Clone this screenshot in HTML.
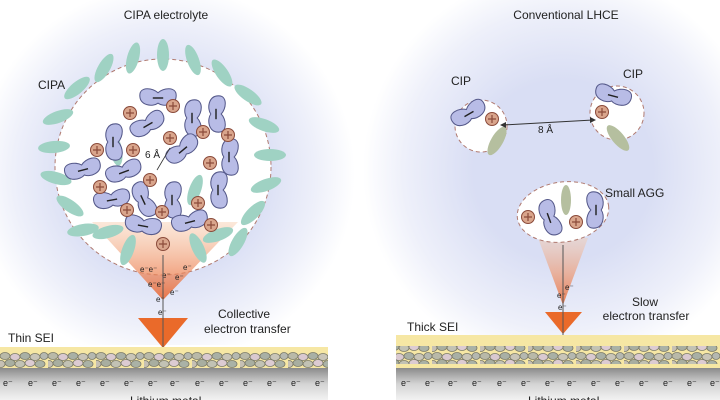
<!DOCTYPE html>
<html><head><meta charset="utf-8"><style>
html,body{margin:0;padding:0;background:#fff}
svg{display:block}
text{font-family:"Liberation Sans",sans-serif;fill:#222}
</style></head><body>
<svg width="720" height="400" viewBox="0 0 720 400" xmlns="http://www.w3.org/2000/svg">
<defs>
<radialGradient id="glowL" cx="165" cy="175" r="190" gradientUnits="userSpaceOnUse">
<stop offset="0.5" stop-color="#d9def4"/><stop offset="0.8" stop-color="#eef0fa"/><stop offset="1" stop-color="#ffffff"/></radialGradient>
<radialGradient id="glowR" cx="563" cy="170" r="200" gradientUnits="userSpaceOnUse">
<stop offset="0.45" stop-color="#d9def4"/><stop offset="0.8" stop-color="#eef0fa"/><stop offset="1" stop-color="#ffffff"/></radialGradient>
<linearGradient id="fun" x1="0" y1="0" x2="0" y2="1">
<stop offset="0" stop-color="#f6c9a8" stop-opacity="0.5"/><stop offset="1" stop-color="#e8602a"/></linearGradient>
<linearGradient id="metal" x1="0" y1="0" x2="0" y2="1">
<stop offset="0" stop-color="#8a8a8a"/><stop offset="0.5" stop-color="#d4d4d4"/><stop offset="1" stop-color="#f2f2f2"/></linearGradient>
<pattern id="peb" width="48" height="16" patternUnits="userSpaceOnUse">
<g stroke="#7a7a6a" stroke-width="0.8">
<ellipse cx="5" cy="4" rx="5" ry="3.5" fill="#b9b9a8"/>
<ellipse cx="15" cy="5" rx="5" ry="3.5" fill="#d9c9d0"/>
<ellipse cx="25" cy="4" rx="5" ry="3.5" fill="#a9b0a5"/>
<ellipse cx="35" cy="5" rx="5" ry="3.5" fill="#c9c5b8"/>
<ellipse cx="44" cy="4" rx="4" ry="3.5" fill="#b5b8b0"/>
<ellipse cx="10" cy="11" rx="5" ry="3.5" fill="#a8aea0"/>
<ellipse cx="20" cy="12" rx="5" ry="3.5" fill="#c2c2b4"/>
<ellipse cx="30" cy="11" rx="5" ry="3.5" fill="#dccbd2"/>
<ellipse cx="40" cy="12" rx="5" ry="3.5" fill="#aab2a6"/>
<ellipse cx="1" cy="12" rx="4" ry="3.5" fill="#c6c0b4"/>
</g></pattern>
<g id="an"><g transform="scale(1.3)"><path d="M-14,-2 C-14,-9 -4,-8 0,-4 C4,-8 14,-9 14,-2 C14,6 4,7 0,4 C-4,7 -14,6 -14,-2Z" fill="#b8bce6" stroke="#55598a" stroke-width="0.8"/><line x1="-4" y1="0" x2="4" y2="0" stroke="#222" stroke-width="1.1"/></g></g>
<g id="cat"><circle r="6.5" fill="#d9a58c" stroke="#8a4a3a" stroke-width="1"/><path d="M-4,0H4M0,-4V4" stroke="#8a4a3a" stroke-width="1.2"/></g>
<ellipse id="sol" rx="16" ry="6" fill="#9fd2c3"/>
</defs>

<rect width="720" height="400" fill="#fff"/>
<rect x="0" y="0" width="355" height="345" fill="url(#glowL)"/>
<rect x="360" y="0" width="360" height="335" fill="url(#glowR)"/>

<text x="166" y="19" font-size="12" text-anchor="middle">CIPA electrolyte</text>
<text x="566" y="19" font-size="12" text-anchor="middle">Conventional LHCE</text>
<text x="38" y="89" font-size="12">CIPA</text>

<circle cx="163" cy="167" r="108" fill="#fff" stroke="#b07a70" stroke-width="1" stroke-dasharray="4,3"/>
<polygon points="92,222 238,222 163,300" fill="url(#fun)" opacity="0.85"/>
<g>
<use href="#sol" transform="translate(163,55) rotate(90)"/>
<use href="#sol" transform="translate(193,60) rotate(70)"/>
<use href="#sol" transform="translate(222,73) rotate(55)"/>
<use href="#sol" transform="translate(248,95) rotate(35)"/>
<use href="#sol" transform="translate(264,125) rotate(20)"/>
<use href="#sol" transform="translate(270,155) rotate(0)"/>
<use href="#sol" transform="translate(266,185) rotate(-20)"/>
<use href="#sol" transform="translate(253,213) rotate(-45)"/>
<use href="#sol" transform="translate(238,242) rotate(-60)"/>
<use href="#sol" transform="translate(133,58) rotate(105)"/>
<use href="#sol" transform="translate(104,68) rotate(120)"/>
<use href="#sol" transform="translate(77,88) rotate(140)"/>
<use href="#sol" transform="translate(58,117) rotate(160)"/>
<use href="#sol" transform="translate(54,147) rotate(175)"/>
<use href="#sol" transform="translate(56,178) rotate(195)"/>
<use href="#sol" transform="translate(70,206) rotate(215)"/>
<use href="#sol" transform="translate(108,232) rotate(-15)"/>
<use href="#sol" transform="translate(128,250) rotate(-70)"/>
<use href="#sol" transform="translate(198,248) rotate(65)"/>
<use href="#sol" transform="translate(218,235) rotate(-20)"/>
<use href="#sol" transform="translate(116,150) rotate(80)"/>
<use href="#sol" transform="translate(195,190) rotate(110)"/>
<use href="#sol" transform="translate(83,230) rotate(-10)"/>
</g>
<g>
<use href="#an" transform="translate(158,98)"/>
<use href="#an" transform="translate(148,125) rotate(-30)"/>
<use href="#an" transform="translate(192,118) rotate(90)"/>
<use href="#an" transform="translate(216,114) rotate(90)"/>
<use href="#an" transform="translate(113,142) rotate(90)"/>
<use href="#an" transform="translate(83,170) rotate(-15)"/>
<use href="#an" transform="translate(124,172) rotate(-20)"/>
<use href="#an" transform="translate(183,150) rotate(-40)"/>
<use href="#an" transform="translate(229,157) rotate(90)"/>
<use href="#an" transform="translate(112,200) rotate(-10)"/>
<use href="#an" transform="translate(143,200) rotate(65)"/>
<use href="#an" transform="translate(172,200) rotate(90)"/>
<use href="#an" transform="translate(218,190) rotate(90)"/>
<use href="#an" transform="translate(143,226) rotate(10)"/>
<use href="#an" transform="translate(190,222) rotate(-15)"/>
</g>
<g>
<use href="#cat" x="130" y="113"/><use href="#cat" x="173" y="106"/>
<use href="#cat" x="97" y="150"/><use href="#cat" x="133" y="150"/>
<use href="#cat" x="170" y="138"/><use href="#cat" x="203" y="132"/>
<use href="#cat" x="228" y="135"/><use href="#cat" x="210" y="163"/>
<use href="#cat" x="100" y="187"/><use href="#cat" x="150" y="180"/>
<use href="#cat" x="127" y="210"/><use href="#cat" x="162" y="212"/>
<use href="#cat" x="198" y="203"/><use href="#cat" x="211" y="225"/>
<use href="#cat" x="163" y="244"/>
</g>
<text x="145" y="158" font-size="10">6 Å</text>
<line x1="157" y1="170" x2="170" y2="148" stroke="#333" stroke-width="0.8"/>

<g font-size="8">
<text x="140" y="272">e⁻e⁻</text><text x="183" y="270">e⁻</text>
<text x="162" y="278">e⁻</text><text x="175" y="280">e⁻</text>
<text x="148" y="287">e⁻e⁻</text><text x="170" y="295">e⁻</text>
<text x="156" y="302">e⁻</text><text x="158" y="315">e⁻</text>
</g>
<polygon points="138,318 188,318 163,348" fill="#ea6a2a"/>
<line x1="163" y1="255" x2="163" y2="395" stroke="#555" stroke-width="1"/>
<text x="218" y="318" font-size="12">Collective</text>
<text x="204" y="333" font-size="12">electron transfer</text>
<text x="8" y="342" font-size="12">Thin SEI</text>

<rect x="0" y="347" width="328" height="22" fill="#f6e7a4"/>
<rect x="0" y="352" width="328" height="16" fill="url(#peb)"/>
<rect x="0" y="368" width="328" height="32" fill="url(#metal)"/>
<g font-size="9" fill="#333">
<text x="3" y="386">e⁻</text><text x="28" y="386">e⁻</text><text x="52" y="386">e⁻</text><text x="76" y="386">e⁻</text><text x="100" y="386">e⁻</text><text x="124" y="386">e⁻</text><text x="148" y="386">e⁻</text><text x="170" y="386">e⁻</text><text x="195" y="386">e⁻</text><text x="219" y="386">e⁻</text><text x="243" y="386">e⁻</text><text x="267" y="386">e⁻</text><text x="291" y="386">e⁻</text><text x="315" y="386">e⁻</text>
</g>
<text x="130" y="405" font-size="12">Lithium metal</text>

<text x="451" y="85" font-size="12">CIP</text>
<text x="623" y="78" font-size="12">CIP</text>
<circle cx="481" cy="126" r="26" fill="#fff" stroke="#b07a70" stroke-dasharray="4,3"/>
<use href="#an" transform="translate(469,114) rotate(-30)"/>
<use href="#cat" x="492" y="119"/>
<ellipse cx="497" cy="141" rx="16" ry="6" fill="#b5bf9f" transform="rotate(-60 497 141)"/>
<circle cx="617" cy="113" r="27" fill="#fff" stroke="#b07a70" stroke-dasharray="4,3"/>
<use href="#an" transform="translate(613,96) rotate(15)"/>
<use href="#cat" x="602" y="112"/>
<ellipse cx="618" cy="138" rx="16" ry="6" fill="#b5bf9f" transform="rotate(50 618 138)"/>
<line x1="503" y1="125" x2="593" y2="120" stroke="#333" stroke-width="1"/>
<polygon points="500,125 506,122 506,128" fill="#333"/>
<polygon points="596,120 590,117 590,123" fill="#333"/>
<text x="538" y="133" font-size="10">8 Å</text>

<polygon points="538,238 588,238 563,305" fill="url(#fun)" opacity="0.8"/>
<ellipse cx="563" cy="212" rx="46" ry="30" fill="#fff" stroke="#b07a70" stroke-dasharray="4,3" transform="rotate(-8 563 212)"/>
<ellipse cx="566" cy="200" rx="15" ry="5" fill="#b5bf9f" transform="rotate(90 566 200)"/>
<use href="#cat" x="528" y="217"/>
<use href="#an" transform="translate(549,218) rotate(70)"/>
<use href="#cat" x="576" y="222"/>
<use href="#an" transform="translate(596,210) rotate(-90)"/>
<text x="605" y="197" font-size="12">Small AGG</text>
<g font-size="8"><text x="565" y="290">e⁻</text><text x="557" y="298">e⁻</text><text x="558" y="310">e⁻</text></g>
<polygon points="545,312 582,312 563,334" fill="#ea6a2a"/>
<line x1="563" y1="245" x2="563" y2="395" stroke="#555" stroke-width="1"/>
<text x="645" y="306" font-size="12" text-anchor="middle">Slow</text>
<text x="646" y="320" font-size="12" text-anchor="middle">electron transfer</text>
<text x="407" y="331" font-size="12">Thick SEI</text>

<rect x="396" y="335" width="324" height="33" fill="#f6e7a4"/>
<rect x="396" y="346" width="324" height="18" fill="url(#peb)"/>
<rect x="396" y="368" width="324" height="32" fill="url(#metal)"/>
<g font-size="9" fill="#333">
<text x="401" y="386">e⁻</text><text x="425" y="386">e⁻</text><text x="448" y="386">e⁻</text><text x="472" y="386">e⁻</text><text x="497" y="386">e⁻</text><text x="521" y="386">e⁻</text><text x="545" y="386">e⁻</text><text x="567" y="386">e⁻</text><text x="591" y="386">e⁻</text><text x="615" y="386">e⁻</text><text x="639" y="386">e⁻</text><text x="663" y="386">e⁻</text><text x="687" y="386">e⁻</text><text x="710" y="386">e⁻</text>
</g>
<text x="528" y="405" font-size="12">Lithium metal</text>
</svg>
</body></html>
